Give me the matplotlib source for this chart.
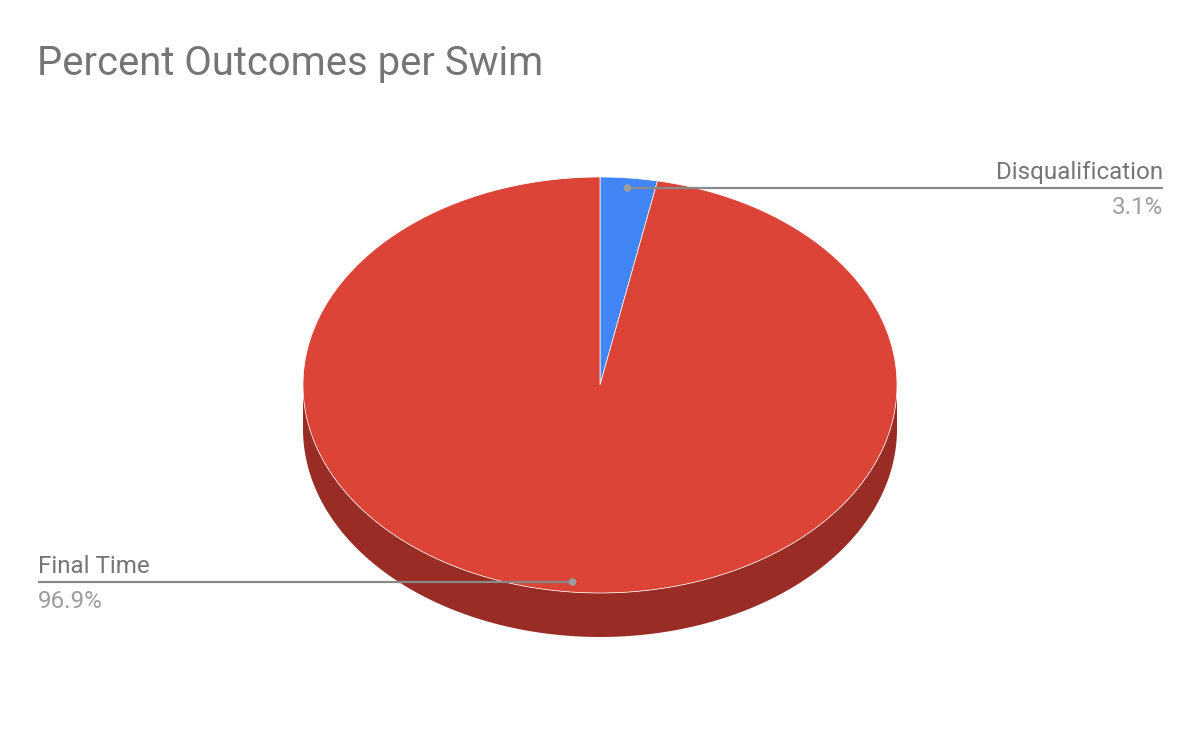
import numpy as np
import matplotlib
matplotlib.use("Agg")
import matplotlib.pyplot as plt
from matplotlib.patches import Polygon, Circle

# ---- data ----
categories = ["Disqualification", "Final Time"]
values = [3.1, 96.9]
top_colors = ["#4285F4", "#DB4437"]
side_colors = ["#2A5BAE", "#992D26"]
title = "Percent Outcomes per Swim"

W, H = 1200, 742
fig = plt.figure(figsize=(W / 100, H / 100), dpi=100)
ax = fig.add_axes([0, 0, 1, 1])
ax.set_xlim(0, W)
ax.set_ylim(H, 0)
ax.axis("off")

plt.rcParams["font.family"] = ["Roboto", "DejaVu Sans"]

cx, cy, rx, ry, depth = 600, 385, 297, 208, 44


def pt(theta_deg, r=1.0, dy=0.0):
    t = np.radians(theta_deg)
    return cx + r * rx * np.sin(t), cy - r * ry * np.cos(t) + dy


total = sum(values)
angles = np.cumsum([0] + [v / total * 360 for v in values])

# sides (front half only: 90..270 deg clockwise from top)
for i in range(len(values)):
    a0, a1 = max(angles[i], 90), min(angles[i + 1], 270)
    if a1 <= a0:
        continue
    ts = np.linspace(a0, a1, 200)
    top = [pt(t) for t in ts]
    bot = [pt(t, dy=depth) for t in ts[::-1]]
    ax.add_patch(Polygon(top + bot, closed=True, facecolor=side_colors[i],
                         edgecolor="none", zorder=1))

# top faces
for i in range(len(values)):
    ts = np.linspace(angles[i], angles[i + 1], 400)
    poly = [(cx, cy)] + [pt(t) for t in ts]
    ax.add_patch(Polygon(poly, closed=True, facecolor=top_colors[i],
                         edgecolor="white", linewidth=0.5, zorder=2))

# labels
line_c = "#8A8A8A"
dot_c = "#9E9E9E"
name_c = "#757575"
pct_c = "#9E9E9E"
fs = 17.4
for i, (cat, v) in enumerate(zip(categories, values)):
    mid = (angles[i] + angles[i + 1]) / 2
    dx, dy = pt(mid, r=0.95)
    dy = round(dy)
    if dx >= cx:
        xe, ha = 1163, "right"
    else:
        xe, ha = 38, "left"
    ax.plot([dx, xe], [dy, dy], color=line_c, lw=1.6, zorder=3,
            solid_capstyle="butt")
    ax.add_patch(Circle((dx, dy), 3.8, facecolor=dot_c, edgecolor="none",
                        zorder=4))
    ax.text(xe, dy - 9, cat, ha=ha, va="baseline", fontsize=fs, color=name_c)
    ax.text(xe, dy + 26, f"{v:.1f}%", ha=ha, va="baseline", fontsize=fs,
            color=pct_c)

ax.text(37, 75, title, ha="left", va="baseline", fontsize=28.8, color="#757575")

fig.savefig("out.png", dpi=100, facecolor="white")
